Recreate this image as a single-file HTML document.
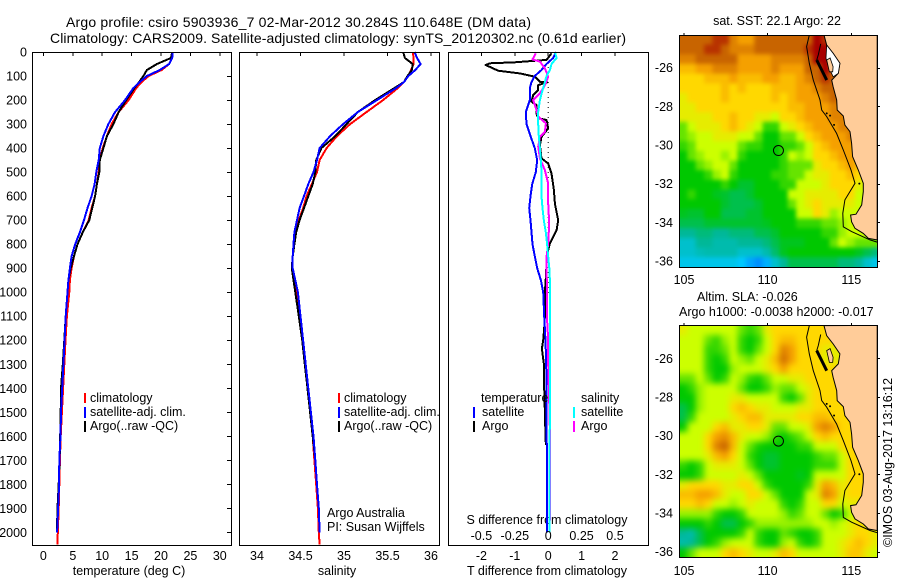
<!DOCTYPE html>
<html lang="en">
<head>
<meta charset="utf-8">
<title>Argo profile csiro 5903936_7</title>
<style>
html,body{margin:0;padding:0;background:#fff;}
svg{display:block;}
text{font-family:"Liberation Sans",sans-serif;font-size:12.5px;fill:#000;}
</style>
</head>
<body>
<svg id="fig" xmlns="http://www.w3.org/2000/svg" width="900" height="580" viewBox="0 0 900 580">
  <text x="66" y="27" textLength="465" lengthAdjust="spacing" style="font-size:14px">Argo profile: csiro 5903936_7 02-Mar-2012 30.284S 110.648E (DM data)</text>
  <text x="50" y="43" textLength="576" lengthAdjust="spacing" style="font-size:14px">Climatology: CARS2009. Satellite-adjusted climatology: synTS_20120302.nc (0.61d earlier)</text>
  <text x="129" y="575" text-anchor="middle">temperature (deg C)</text>
  <text x="337" y="575" text-anchor="middle">salinity</text>
  <text x="547" y="575" text-anchor="middle">T difference from climatology</text>
  <text x="547" y="524" text-anchor="middle">S difference from climatology</text>
  <text x="777" y="25" text-anchor="middle">sat. SST: 22.1 Argo: 22</text>
  <text x="697" y="301">Altim. SLA: -0.026</text>
  <text x="679" y="316">Argo h1000: -0.0038 h2000: -0.017</text>
  <text transform="translate(892,547) rotate(-90)">©IMOS 03-Aug-2017 13:16:12</text>
  <text x="327" y="517">Argo Australia</text>
  <text x="327" y="531">PI: Susan Wijffels</text>
  <defs>
    <filter id="soft-sst" x="-5%" y="-5%" width="110%" height="110%" color-interpolation-filters="sRGB"><feGaussianBlur stdDeviation="2"/></filter>
    <filter id="soft-sla" x="-5%" y="-5%" width="110%" height="110%" color-interpolation-filters="sRGB"><feGaussianBlur stdDeviation="3.2"/></filter>
  </defs>
  <g id="layer"></g>
</svg>
<script>
// ---- profile data ----
const depths = [0,25,50,75,100,125,150,200,250,300,350,400,450,500,550,600,650,700,750,800,850,900,950,1000,1100,1200,1300,1400,1500,1600,1700,1800,1900,2000,2050];
const tempClim = [22,21.9,21.4,20.1,17.9,16.7,15.8,14.5,12.8,11.6,10.8,10.1,9.6,9.4,9.1,8.8,8.2,7.7,6.7,5.8,5.2,4.8,4.5,4.4,4.0,3.75,3.55,3.35,3.15,2.95,2.8,2.7,2.6,2.45,2.4];
const tempSat = [22,21.9,21.4,19.8,17.6,16.4,15.3,13.9,12.2,11.05,10.2,9.6,9.4,9.0,8.7,8.2,7.5,6.9,6.2,5.4,4.8,4.5,4.25,4.1,3.8,3.6,3.4,3.2,3.0,2.9,2.7,2.67,2.5,2.33];
const tempArgo = [21.9,21.7,19.3,17.6,17,16.3,15.5,14.1,12.8,11.9,10.8,10.2,9.6,9.5,9.1,8.8,8.3,7.8,6.7,5.8,5.2,4.65,4.25,4.1,3.8,3.55,3.3,3.0,2.95,2.85,2.75,2.6,2.4,2.3];
const salClim = [35.79,35.8,35.8,35.77,35.74,35.69,35.62,35.45,35.26,35.07,34.92,34.8,34.72,34.69,34.63,34.57,34.53,34.48,34.45,34.43,34.41,34.41,34.43,34.45,34.49,34.52,34.55,34.58,34.61,34.64,34.66,34.68,34.7,34.71,34.72];
const salSat = [35.81,35.84,35.88,35.82,35.74,35.69,35.6,35.38,35.16,34.99,34.84,34.72,34.69,34.65,34.59,34.54,34.49,34.46,34.43,34.42,34.41,34.41,34.44,34.47,34.5,34.53,34.56,34.59,34.62,34.65,34.67,34.69,34.71,34.72];
const salArgo = [35.68,35.7,35.79,35.78,35.73,35.69,35.58,35.36,35.16,35.03,34.9,34.74,34.68,34.67,34.64,34.59,34.54,34.49,34.45,34.43,34.41,34.4,34.42,34.44,34.48,34.52,34.55,34.58,34.61,34.64,34.67,34.69,34.71,34.72];
const diffDepths = [0,25,50,75,100,125,150,175,200,250,300,350,400,450,500,550,600,650,700,750,800,850,900,950,1000,1100,1200,1300,1400,1500,1700,1900,2000];
const tDiffSat = [0.23,0.15,-0.05,-0.2,-0.4,-0.5,-0.55,-0.55,-0.55,-0.67,-0.65,-0.53,-0.4,-0.33,-0.37,-0.48,-0.53,-0.57,-0.53,-0.5,-0.47,-0.4,-0.33,-0.22,-0.15,-0.12,-0.08,-0.06,-0.05,-0.05,-0.04,-0.04,-0.04];
const sDiffSat = [0.05,0.0625,0.025,0.0125,-0.0125,-0.025,-0.0375,-0.05,-0.0625,-0.075,-0.075,-0.07,-0.0625,-0.055,-0.05,-0.05,-0.05,-0.043,-0.033,-0.018,-0.008,0,0.008,0.0125,0.0125,0.0125,0.0125,0.0125,0.0125,0.0125,0.01,0.01,0.01];
const tDiffArgoDepths = [6,33,43,47,54,78,89,103,124,126,138,158,179,207,221,256,276,283,318,353,388,443,464,506,575,631,700,742,797,825,881,936,1000,1100,1150,1200,1235,1300,1400,1500,1600,1637];
const tDiffArgo = [0.1,-0.05,-1.0,-1.75,-1.87,-1.5,-0.85,-0.4,-0.25,-0.03,-0.3,-0.3,-0.45,-0.5,-0.35,-0.35,-0.3,-0.05,0,-0.2,-0.25,-0.2,0,0.1,0.17,0.2,0.3,0.25,0.05,0,-0.05,-0.07,-0.1,-0.1,-0.12,-0.15,-0.19,-0.13,-0.12,-0.1,-0.08,-0.07];
const sDiffArgoDepths = [6,31,40,68,103,128,151,172,200,242,269,297,332,353,394,443,492,547,631,714,797,853,908,1000,1100,1200,1300,1500,1650,1900,1950];
const sDiffArgo = [-0.0925,-0.1175,-0.0625,-0.025,0,-0.0175,-0.0375,-0.0625,-0.1125,-0.0875,-0.075,-0.0175,-0.025,-0.0625,-0.075,-0.0625,-0.025,0,0,0.0075,0,-0.0125,-0.0125,-0.0075,-0.01,0,0,0.01,0.015,0.015,0.015];
const depthTicks = [0,100,200,300,400,500,600,700,800,900,1000,1100,1200,1300,1400,1500,1600,1700,1800,1900,2000];
const tempTicks = [0,5,10,15,20,25,30];
const salTicks = [34,34.5,35,35.5,36];
const tDiffTicks = [-2,-1,0,1,2];
const sDiffTicks = [-0.5,-0.25,0,0.25,0.5];
const sDiffTickLabels = ["-0.5","-0.25","0","0.25","0.5"];
const lonTicks = [105,110,115];
const latTicks = [-26,-28,-30,-32,-34,-36];
// ---- map data (colour level per half-degree cell, north to south, west to east) ----
const sstGrid = [
[8,8,8,8,8.5,8.5,7.5,7,7,8,8,8,8,8,8,8,9,8.5,8.5],
[8,8,8,8.5,8.5,8,7.5,7.5,7.5,8,8,8,8,8,8,8.5,9,9,8.5],
[7.5,7.5,8,8,8,8,8,7,7,7,7,7.5,7.5,7.5,7.5,8,9,9,8],
[6.5,6.5,7,7,7.5,7.5,7.5,7,7,7,7,7.5,7,7,7,8,8,9,8],
[6,6,6,6.5,6.5,6.5,7,6.5,6.5,6.5,7,7,6.5,6.5,7,7.5,8,8.5,8],
[6,6,6,6,6,6.5,6,6.5,6,6,6,6.5,6.5,6.5,7,7,7.5,8,8,8],
[5.5,6,6,6,6,6.5,6,6,6,6,6,6.5,6,6.5,7,7,7,7.5,8,8],
[5.5,5.5,6,6,6,6,6,6,6,6,6,6,6,6.5,6.5,7,7,7,7.5,7.5],
[5.5,5.5,5.5,5.5,6,6,6.5,6,6,5.5,5.5,5,6,6,6.5,7,7,7,7.5,7.5],
[4,5,5.5,5.5,5.5,6,6.5,6,5.5,5,3.5,3.5,5,5.5,6,6.5,7,7,7,7.5,7.5],
[4,4.5,5,5,5.5,5.5,5.5,5,5,4,3,3,4,4,5,6,6.5,7,7,7,7.5],
[3.5,4,5,5,5,5,5,4,3.5,3.5,3,3,3.5,3.5,4,5,6,6.5,7,7,7],
[3,4,4.5,5,5,4.5,5,3.5,3,3,3,3,3.5,5,4.5,5,6,6,6.5,7,7,7],
[3,3,4,4.5,5,5,4,3,3,3,3,3,3.5,4,4,4,5.5,6,6,6.5,7,6.5],
[3,3,3,3.5,4.5,5,3.5,3,3,3,3,3.5,3.5,4,4,5,5.5,5.5,6,6,6.5,6],
[3,3,3,3,3,3.5,3,2.7,2.7,3,3,3,3.5,3.5,5,5,5,5.5,6,6,6,5.5,5],
[3,3.5,3,3,2.8,2.7,2.5,2.5,2.7,3,3,3,3,5,5,5.5,5.5,5.5,5.5,6,6,5,5],
[3,3,3,3,3,2.7,2.5,2.5,2.5,2.7,3,3,3,4,5,5.5,6,5.5,5.5,5.5,5.5,5,5],
[2.8,2.7,2.7,3,3,2.5,2.5,2.5,2.7,2.7,3,3,3,3,5,5,6,5.5,4.5,5,5,5],
[2.5,2.5,2.5,2.7,2.7,2.7,2.7,2.7,2.7,2.7,2.8,3,3,3,3.5,3.5,3.5,4,4,4.5,5,5,5],
[2,2,2.2,2.2,2,2,2.2,2.2,2.2,2.5,2.5,2.7,3,3,3,3,3,3.5,3.5,4.5,5,5,5,5],
[1.5,1.5,2,2,1.8,1.8,1.8,2,2,2,2.2,2.5,2.8,2.8,2.8,3,3,3,4,5,4.5,4,4,4],
[1.5,1.5,1.7,1.8,1.8,1.8,1.8,1.5,1.5,1.5,1.8,2.3,2.8,3,3,3,3,3,3,3,3,2.8,2.5,2.2],
[1.2,1.2,1.2,1.2,1.2,1.2,1.2,1,0.7,0.5,0.8,1.5,2,2.5,2.5,2.5,2.5,2.5,2.5,2.2,2.2,2,1.5,1.2]
];
const slaGrid = [
[5.5,5,5,5,5,5,5,4,3.5,4,5.5,6,6,6,6,6,6,6,6],
[5,5,5,4,3.5,4.5,5,3.5,3,3.5,5,6,6.5,6.5,6,6,6,6,6],
[5,5,5,3.5,3.5,4,5,3.5,3,4,5,6,7.5,7,6,6,6,5.5,5.5],
[5,5,5,3.5,3,3.5,5,4.5,4,5,5.5,6.5,7.8,7,6,6,6,5.5,5.5],
[5,5,5,3.5,3,3,4.5,5,5,5,5.5,6,7,6,6,6,6,6,6],
[4,4,5,4,3,3.5,5,4.5,3.5,3.2,4,5,5,5.5,5.5,6,6,6,6,6],
[3,3.5,4.5,5,5,5,5,4,3,3,3.5,4.5,4,4,5,5.5,6,6,6,6],
[3,3,4.5,5,5,5,5.5,5.5,5,5,5,5,3.5,3,4,5.5,6,6,6,6],
[2.5,3,4.5,5,5,5,6,6.5,6,5.5,5.5,5,5,5,5.5,5.5,6,6,6,6],
[2.5,3.5,5,5,5,5,5.5,6,6.5,6.5,5.5,5.5,5.5,5.5,6,6,6.5,6.5,6,6,6],
[3,5,5,5,6,6.5,5.5,5.5,6,6,5.5,4,4,5,5,5.5,7,7.5,7,6,6],
[5,5,5,6,7,7.3,6.5,5.5,5,5,4.5,3.5,3,3.5,4,5,6,6.5,6,6,6],
[5,5,5,6,7.5,8,6.5,5,4,3.2,3,3,3,3,3.5,3.5,5,5,5,6,6,6],
[5,5,5,5.5,6.5,7,6,5,3.5,3,2.7,2.7,3,3,3,3,3.5,4,4,5,6,6],
[3.5,3,3.5,5,5.5,5.5,5.5,5,4,3,2.7,2.7,3,3,3,3,3.5,3.5,3.5,5,6,6],
[3,3,3.5,5,5,5,5,5.5,5,4,3,3,3,3,2.8,3,5,5,5,5,6,6,6],
[5.5,6,6,6,6,5.5,5.5,6,6,5,3.5,3,3,3,3,3.5,5.5,7,6.5,5.5,6,6,6],
[6.5,6.5,7,7,6.5,5.5,5,5,6,6,5,4,3,3,3,5,5.5,7.5,7,5.5,6,6,6],
[6,6,6.5,6,5,5,4.5,5,5.5,5,5,5,3.5,3,3.5,5,5,6,6,5,5.5,5.5],
[4.5,4.5,4.5,4.5,3.5,3,3,3.5,5,5,5,5,4.5,3.5,4,5,5,4,3,3.5,5,5,5.5],
[3,3,3,3.5,3,2.5,2.5,3,3.5,4.5,4.5,4.5,4.5,4.5,4.5,4.5,5,5,4.5,5,5.5,6,5.5,5.5],
[2,1.8,2.5,3,3,3,3,3.5,5,3.5,3,3,4,3.5,3,3,3.5,5,5,5,5.5,6,6,5.5],
[1.8,2,2.5,3,3.5,4.5,5,5,5,3.5,3,3,4.5,5,3.5,3,3.5,5,5,5.5,6,6.5,6,5.5],
[3,4,5,5,5,6,6.5,6,5.5,5,5,5.5,6.5,6,5,5,5,5,5,5.5,6.3,6.3,5.5,5]
];
const coastLon = [113.37,113.53,113.92,114.32,114.22,113.83,113.91,114.13,114.16,114.52,114.62,114.92,115.02,115.08,115.42,115.72,115.72,115.62,115.28,114.96,115.02,115.22,115.72,116.02,116.55,116.55];
const coastLat = [-24.31,-24.83,-25.26,-25.77,-26.29,-26.64,-26.98,-27.67,-28.19,-28.5,-28.97,-29.31,-29.91,-30.6,-31.29,-31.98,-32.41,-33.1,-33.58,-33.62,-33.97,-34.31,-34.57,-34.83,-34.91,-24.3];
const isobathLon = [112.49,112.33,112.49,112.73,113.13,113.23,113.53,114.12,114.52,114.98,115.22,114.62,114.49,114.52,115.02,116.12,116.54];
const isobathLat = [-24.31,-24.91,-25.77,-26.64,-27.67,-28.19,-28.53,-29.4,-30.26,-31.29,-31.98,-32.84,-33.53,-34.23,-34.48,-34.91,-35.02];
const islandLon = [113.17,113.03,112.93];
const islandLat = [-24.77,-25.34,-25.6];
const islandThickLon = [112.93,113.23,113.53];
const islandThickLat = [-25.6,-26.12,-26.64];
const bayLon = [113.53,113.92,114.32,114.22,113.92,113.63,113.49];
const bayLat = [-24.83,-25.26,-25.77,-26.29,-26.47,-25.95,-25.51];
const peninsulaLon = [113.53,113.73,113.91,113.89,113.69];
const peninsulaLat = [-25.6,-25.5,-25.95,-26.21,-26.21];
const dotLon = [113.73,113.53,113.97,115.48];
const dotLat = [-28.48,-28.36,-28.96,-32.0];
const profileLon = 110.646;
const profileLat = -30.284;
const levelStops = ["#0055ff","#00c8ff","#00b898","#00c800","#66e400","#ccff00","#ffd800","#f5a000","#c86400","#a80000"];

// ---- scales ----
const PANEL_TOP = 52, PANEL_BOTTOM = 545;
function yDepth(d){ return PANEL_TOP + 0.2402 * d; }
function xTemp(t){ return 43.4 + 5.88 * t; }
function xSal(s){ return 257 + 87 * (s - 34); }
function xTDiff(t){ return 548.2 + 33.4 * t; }
function xSDiff(s){ return 548.2 + 133.6 * s; }
function xLon(l){ return 684 + 16.73 * (l - 105); }
function yLat1(l){ return 67.7 + 19.33 * (-26 - l); }
function yLat2(l){ return 358.3 + 19.33 * (-26 - l); }

const NS = "http://www.w3.org/2000/svg";
const layer = document.getElementById("layer");
function add(tag, attrs, parent){
  const el = document.createElementNS(NS, tag);
  for (const k in attrs) el.setAttribute(k, attrs[k]);
  (parent || layer).appendChild(el);
  return el;
}
function levelColor(v){
  const i = Math.max(0, Math.min(levelStops.length - 2, Math.floor(v)));
  const f = Math.max(0, Math.min(1, v - i));
  const a = levelStops[i], b = levelStops[i + 1];
  const ch = p => Math.round(parseInt(a.substr(p, 2), 16) * (1 - f) + parseInt(b.substr(p, 2), 16) * f);
  return "rgb(" + ch(1) + "," + ch(3) + "," + ch(5) + ")";
}
function label(x, y, str, anchor){
  const t = add("text", {x: x, y: y, "text-anchor": anchor || "start"});
  t.textContent = str;
  return t;
}
function series(ds, vs, xf, color, name){
  const pts = [];
  for (let i = 0; i < vs.length; i++) pts.push(xf(vs[i]).toFixed(1) + "," + yDepth(ds[i]).toFixed(1));
  const el = add("polyline", {points: pts.join(" "), fill: "none", stroke: color, "stroke-width": 2, "stroke-linejoin": "round", "shape-rendering": "crispEdges"});
  
  
}
function frame(x0, x1, y0, y1, name){
  const el = add("rect", {x: x0 + 0.5, y: y0 + 0.5, width: x1 - x0, height: y1 - y0, fill: "none", stroke: "#000", "stroke-width": 1, "shape-rendering": "crispEdges"});
  
  
}
function tick(x1, y1, x2, y2, name){
  const el = add("line", {x1: x1, y1: y1, x2: x2, y2: y2, stroke: "#000", "stroke-width": 1, "shape-rendering": "crispEdges"});
  
  
}
function legendBar(x, y0, y1, color, name){
  const el = add("rect", {x: x, y: y0, width: 2, height: y1 - y0, fill: color});
  
  
}
function legendText(x, y, str, name){
  const el = label(x, y, str);
  
  
}

// ---- profile panels ----
series(depths, tempClim, xTemp, "#ff0000", "temperature-climatology-line");
series(depths, tempArgo, xTemp, "#000000", "temperature-argo-line");
series(depths, tempSat, xTemp, "#0000ff", "temperature-satellite-line");
series(depths, salClim, xSal, "#ff0000", "salinity-climatology-line");
series(depths, salArgo, xSal, "#000000", "salinity-argo-line");
series(depths, salSat, xSal, "#0000ff", "salinity-satellite-line");

const zeroLine = add("line", {x1: xTDiff(0), y1: PANEL_TOP, x2: xTDiff(0), y2: yDepth(1020), stroke: "#000", "stroke-width": 1, "stroke-dasharray": "1 4"});


series(tDiffArgoDepths, tDiffArgo, xTDiff, "#000000", "t-difference-argo-line");
series(diffDepths, tDiffSat, xTDiff, "#0000ff", "t-difference-satellite-line");
series(sDiffArgoDepths, sDiffArgo, xSDiff, "#ff00ff", "s-difference-argo-line");
series(diffDepths, sDiffSat, xSDiff, "#00ffff", "s-difference-satellite-line");

frame(32, 231, PANEL_TOP, PANEL_BOTTOM, "temperature-panel-frame");
frame(239, 439, PANEL_TOP, PANEL_BOTTOM, "salinity-panel-frame");
frame(448, 648, PANEL_TOP, PANEL_BOTTOM, "difference-panel-frame");

depthTicks.forEach(d => {
  const t = label(27, yDepth(d) + 4.5, String(d), "end");
  
  
  tick(227, Math.round(yDepth(d)) + 0.5, 231, Math.round(yDepth(d)) + 0.5, 'depth-tick');
});
tempTicks.forEach(v => {
  const t = label(xTemp(v), 560, String(v), "middle");
  
  
  tick(xTemp(v), PANEL_TOP, xTemp(v), PANEL_TOP + 4, 'temperature-tick');
});
salTicks.forEach(v => {
  const t = label(xSal(v), 560, String(v), "middle");
  
  
  tick(xSal(v), PANEL_TOP, xSal(v), PANEL_TOP + 4, 'salinity-tick');
});
tDiffTicks.forEach(v => {
  const t = label(xTDiff(v), 560, String(v), "middle");
  
  
  tick(xTDiff(v), PANEL_TOP, xTDiff(v), PANEL_TOP + 4, 't-difference-tick');
});
sDiffTicks.forEach((v, i) => {
  const t = label(xSDiff(v), 540, sDiffTickLabels[i], "middle");
  
  
});

// ---- legends ----
[[84, 90, "temperature"], [338, 344, "salinity"]].forEach(c => {
  legendBar(c[0], 393, 403, "#ff0000", c[2] + "-legend-climatology-swatch");
  legendBar(c[0], 407, 418, "#0000ff", c[2] + "-legend-satellite-swatch");
  legendBar(c[0], 421, 432, "#000000", c[2] + "-legend-argo-swatch");
  legendText(c[1], 402, "climatology", c[2] + "-legend-climatology");
  legendText(c[1], 416, "satellite-adj. clim.", c[2] + "-legend-satellite");
  legendText(c[1], 430, "Argo(..raw -QC)", c[2] + "-legend-argo");
});
legendText(481, 402, "temperature", "difference-legend-temperature-heading");
legendBar(473, 407, 418, "#0000ff", "difference-legend-t-satellite-swatch");
legendText(482, 416, "satellite", "difference-legend-t-satellite");
legendBar(473, 421, 432, "#000000", "difference-legend-t-argo-swatch");
legendText(482, 430, "Argo", "difference-legend-t-argo");
legendText(581, 402, "salinity", "difference-legend-salinity-heading");
legendBar(573, 407, 418, "#00ffff", "difference-legend-s-satellite-swatch");
legendText(581, 416, "satellite", "difference-legend-s-satellite");
legendBar(573, 421, 432, "#ff00ff", "difference-legend-s-argo-swatch");
legendText(581, 430, "Argo", "difference-legend-s-argo");

// ---- maps ----
function lonLatPoints(lons, lats, yf){
  return lons.map((l, i) => xLon(l).toFixed(1) + "," + yf(lats[i]).toFixed(1)).join(" ");
}
function drawMap(grid, yf, top, bottom, prefix, clipId, hasBay, labelY){
  const left = 679, right = 877;
  const defs = add("clipPath", {id: clipId});
  add("rect", {x: left, y: top, width: right - left, height: bottom - top}, defs);
  const g = add("g", {"clip-path": "url(#" + clipId + ")"});
  
  
  const bg = add("rect", {x: left, y: top, width: right - left, height: bottom - top, fill: "#ffcc99"}, g);
  
  
  const field = add("g", {filter: "url(#soft-" + prefix + ")"}, g);
  
  
  const lon0 = 104.7, lat0 = -24.3, step = 0.5, pad = 12;
  grid.forEach((row, j) => {
    row.forEach((v, i) => {
      let x0 = xLon(lon0 + i * step), x1 = xLon(lon0 + (i + 1) * step);
      let y0 = yf(lat0 - j * step), y1 = yf(lat0 - (j + 1) * step);
      if (i === 0) x0 -= pad;
      if (i === row.length - 1) x1 += pad;
      if (j === 0) y0 -= pad;
      if (j === grid.length - 1) y1 += pad;
      const cell = add("rect", {x: x0.toFixed(1), y: y0.toFixed(1), width: (x1 - x0 + 0.6).toFixed(1), height: (y1 - y0 + 0.6).toFixed(1), fill: levelColor(v)}, field);
      
      
    });
  });
  const land = add("polygon", {points: lonLatPoints(coastLon, coastLat, yf), fill: "#ffcc99", stroke: "#000", "stroke-width": 1}, g);
  
  
  if (hasBay) {
    const bay = add("polygon", {points: lonLatPoints(bayLon, bayLat, yf), fill: "#fff", stroke: "#000", "stroke-width": 0.8}, g);
    
    
  }
  const peninsula = add("polygon", {points: lonLatPoints(peninsulaLon, peninsulaLat, yf), fill: "#ffcc99", stroke: "#000", "stroke-width": 0.8}, g);
  
  
  const iso = add("polyline", {points: lonLatPoints(isobathLon, isobathLat, yf), fill: "none", stroke: "#000", "stroke-width": 1}, g);
  
  
  const island = add("polyline", {points: lonLatPoints(islandLon, islandLat, yf), fill: "none", stroke: "#000", "stroke-width": 1}, g);
  
  
  const islandThick = add("polyline", {points: lonLatPoints(islandThickLon, islandThickLat, yf), fill: "none", stroke: "#000", "stroke-width": 3}, g);
  
  
  dotLon.forEach((l, i) => {
    const dot = add("circle", {cx: xLon(l), cy: yf(dotLat[i]), r: 1, fill: "#000"}, g);
    
    
  });
  const marker = add("circle", {cx: xLon(profileLon), cy: yf(profileLat), r: 5, fill: "none", stroke: "#000", "stroke-width": 1}, g);
  
  
  frame(left, right, top, bottom, prefix + '-map-frame');
  lonTicks.forEach(l => {
    const t = label(xLon(l), labelY, String(l), "middle");
    
    
    tick(xLon(l), top - 2, xLon(l), top, prefix + '-longitude-tick');
  });
  latTicks.forEach(l => {
    const t = label(673, yf(l) + 4.5, String(l), "end");
    
    
    tick(right, Math.round(yf(l)) + 0.5, right + 3, Math.round(yf(l)) + 0.5, prefix + '-latitude-tick');
  });
}
drawMap(sstGrid, yLat1, 35, 267, "sst", "clip-sst", true, 284);
drawMap(slaGrid, yLat2, 325, 557, "sla", "clip-sla", false, 575);
</script>
</body>
</html>
